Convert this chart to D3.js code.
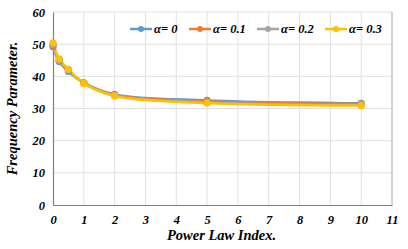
<!DOCTYPE html>
<html>
<head>
<meta charset="utf-8">
<script src="https://cdn.jsdelivr.net/npm/d3@7"></script>
<style>
  body { margin: 0; background: #fff; }
  svg text { font-family: "Liberation Serif", "Times New Roman", serif; font-weight: bold; font-style: italic; }
</style>
</head>
<body>
<svg id="chart" width="408" height="249"></svg>
<script>
// chart values
const xValues = [0, 0.2, 0.5, 1, 2, 5, 10]
const alpha0 = [49.2, 44.6, 41.5, 38.0, 34.4, 32.5, 31.6]
const alpha01 = [49.6, 44.9, 41.8, 38.0, 34.2, 32.2, 31.4]
const alpha02 = [50.0, 45.1, 42.0, 37.9, 34.0, 31.9, 31.1]
const alpha03 = [50.4, 45.4, 42.2, 37.8, 33.9, 31.7, 30.9]
const seriesNames = ["α= 0", "α= 0.1", "α= 0.2", "α= 0.3"]
const xTicks = [0, 1, 2, 3, 4, 5, 6, 7, 8, 9, 10, 11]
const yTicks = [0, 10, 20, 30, 40, 50, 60]

const colors = ["#5B9BD5", "#ED7D31", "#A5A5A5", "#FFC000"]
const allSeries = [alpha0, alpha01, alpha02, alpha03]

const margin = {left: 53, top: 12, right: 16, bottom: 44}
const width = 408 - margin.left - margin.right
const height = 249 - margin.top - margin.bottom

let svg = d3.select("#chart")
let g = svg.append("g")
        .attr("transform", `translate(${margin.left},${margin.top})`)

let x = d3.scaleLinear().domain([0, 11]).range([0, width])
let y = d3.scaleLinear().domain([0, 60]).range([height, 0])

// gridlines
g.append("g").selectAll("line")
    .data(yTicks.filter(d => d > 0))
  .enter().append("line")
    .attr("x1", 0).attr("x2", width)
    .attr("y1", d => y(d)).attr("y2", d => y(d))
    .attr("stroke", "#e0e0e0").attr("stroke-width", 1)
g.append("g").selectAll("line")
    .data(xTicks.filter(d => d > 0 && d < 11))
  .enter().append("line")
    .attr("x1", d => x(d)).attr("x2", d => x(d))
    .attr("y1", 0).attr("y2", height)
    .attr("stroke", "#e0e0e0").attr("stroke-width", 1)

// right border
g.append("line")
    .attr("x1", width).attr("x2", width)
    .attr("y1", 0).attr("y2", height)
    .attr("stroke", "#a6a6a6")

// axes
let xAxis = g.append("g")
    .attr("transform", `translate(0,${height})`)
    .call(d3.axisBottom(x).tickValues(xTicks).tickSize(0).tickPadding(10))
xAxis.select(".domain").attr("stroke", "#808080").attr("stroke-width", 1.2)
xAxis.selectAll("text").attr("font-size", 12.5).attr("fill", "#000")
    .style("font-family", "'Liberation Serif', serif")

let yAxis = g.append("g")
    .call(d3.axisLeft(y).tickValues(yTicks).tickSize(0).tickPadding(8))
yAxis.select(".domain").attr("stroke", "#808080").attr("stroke-width", 1.2)
yAxis.selectAll("text").attr("font-size", 12.5).attr("fill", "#000")
    .style("font-family", "'Liberation Serif', serif")

// lines
let line = d3.line()
    .x((d, i) => x(xValues[i]))
    .y(d => y(d))
    .curve(d3.curveCatmullRom.alpha(0.5))

allSeries.forEach(function(s, k){
    g.append("path")
        .datum(s)
        .attr("fill", "none")
        .attr("stroke", colors[k])
        .attr("stroke-width", 2.5)
        .attr("d", line)
})
allSeries.forEach(function(s, k){
    g.selectAll(".pt" + k)
        .data(s)
      .enter().append("circle")
        .attr("class", "pt" + k)
        .attr("cx", (d, i) => x(xValues[i]))
        .attr("cy", d => y(d))
        .attr("r", 3.6)
        .attr("fill", colors[k])
})

// legend
const legendX = [130, 189, 257, 325]
let legend = svg.append("g")
legendX.forEach(function(lx, k){
    let ly = 29
    legend.append("line")
        .attr("x1", lx).attr("x2", lx + 22)
        .attr("y1", ly).attr("y2", ly)
        .attr("stroke", colors[k]).attr("stroke-width", 2.5)
    legend.append("circle")
        .attr("cx", lx + 11).attr("cy", ly).attr("r", 3)
        .attr("fill", colors[k])
    legend.append("text")
        .attr("x", lx + 24).attr("y", ly + 4)
        .attr("font-size", 12.5)
        .text(seriesNames[k])
})

// axis titles
svg.append("text")
    .attr("x", margin.left + x(5.5) - 1).attr("y", 240)
    .attr("text-anchor", "middle")
    .attr("font-size", 14.5)
    .text("Power Law Index.")
svg.append("text")
    .attr("transform", `translate(17,${margin.top + height / 2}) rotate(-90)`)
    .attr("text-anchor", "middle")
    .attr("font-size", 14.5)
    .text("Frequency Parameter.")
</script>
</body>
</html>
